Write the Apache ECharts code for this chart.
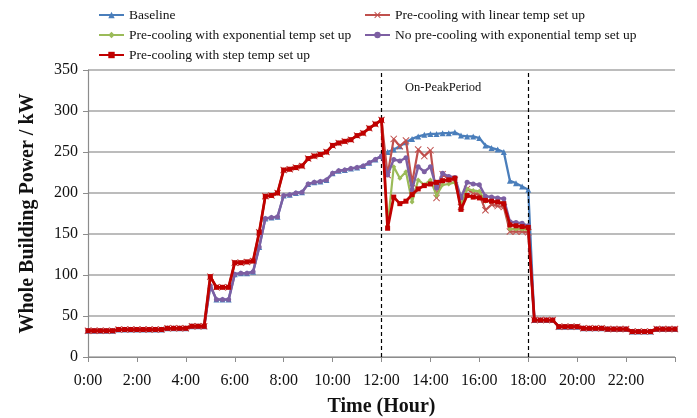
<!DOCTYPE html>
<html>
<head>
<meta charset="utf-8">
<script src="https://cdn.jsdelivr.net/npm/echarts@6/dist/echarts.min.js"></script>
<style>
  html, body { margin: 0; padding: 0; background: #fff; }
  #chart { width: 697px; height: 418px; }
</style>
</head>
<body>
<div id="chart"></div>
<script>
// Whole building power, 15-minute samples from 0:00 to 24:00 (kW)

// 0:00 - 4:45, identical for every strategy
const nightLoad = [32, 32, 32, 32, 32, 33.5, 33.5, 33.5, 33.5, 33.5, 33.5, 33.5, 33.5,
                   35, 35, 35, 35, 37.5, 37.5, 37.5];

// 5:00 - 12:00 with pre-cooling (step, linear and exponential strategies share it)
const morningPrecool = [98, 85, 85, 85, 115, 115, 116, 117, 152, 196, 197, 200,
                        228, 229, 231, 233, 242, 245, 247, 250, 258, 261, 263, 265,
                        270, 273, 279, 284, 289];

// 5:00 - 12:00 without pre-cooling (baseline and no pre-cooling case)
const morningNormal = [87, 70, 70, 70, 101, 102, 102, 104, 134, 169, 170, 171,
                       197, 198, 200, 201, 211, 213, 214, 216, 224, 227, 228, 230,
                       231, 233, 237, 241, 245];

// 12:15 - 18:00 on-peak period, one array per strategy
const peakBaseline  = [250, 253, 257, 262, 266, 269, 271, 272, 272, 273, 273, 274,
                       270, 269, 269, 267, 258, 255, 253, 250, 215, 212, 208, 204];
const peakLinear    = [222, 266, 257, 264, 212, 253, 245, 252, 194, 223, 217, 216,
                       183, 205, 200, 198, 179, 186, 184, 183, 153, 153, 153, 152];
const peakExpo      = [160, 232, 218, 226, 189, 216, 210, 216, 197, 210, 211, 213,
                       186, 205, 203, 202, 190, 190, 189, 188, 156, 156, 156, 155];
const peakNoPreExpo = [222, 241, 239, 243, 204, 232, 226, 232, 206, 224, 220, 219,
                       194, 213, 211, 210, 196, 195, 194, 193, 165, 164, 163, 160];
const peakStep      = [157, 195, 187, 190, 198, 205, 209, 211, 213, 215, 216, 218,
                       180, 197, 195, 194, 191, 190, 189, 187, 161, 160, 159, 158];

// 18:15 - 24:00, identical for every strategy
const eveningLoad = [45, 45, 45, 45, 37, 37, 37, 37, 35, 35, 35, 35,
                     34, 34, 34, 34, 31, 31, 31, 31, 34, 34, 34, 34];

const seriesNames = [
  'Baseline',
  'Pre-cooling with linear temp set up',
  'Pre-cooling with exponential temp set up',
  'No pre-cooling with exponential temp set up',
  'Pre-cooling with step temp set up'
];
const xTicks = ['0:00', '2:00', '4:00', '6:00', '8:00', '10:00', '12:00',
                '14:00', '16:00', '18:00', '20:00', '22:00'];

const STEP_HOURS = 0.25;

function toPoints(values) {
  return values.map((v, i) => [i * STEP_HOURS, v]);
}
function fullDay(morning, peak) {
  return toPoints(nightLoad.concat(morning, peak, eveningLoad));
}

const FONT = "'Liberation Serif', 'Times New Roman', serif";
const xMark = 'path://M0,1L1,0L5,4L9,0L10,1L6,5L10,9L9,10L5,6L1,10L0,9L4,5Z';

const defs = [
  { name: seriesNames[0], color: '#4a7ebb', symbol: 'triangle', size: 6, width: 2.3,
    data: fullDay(morningNormal, peakBaseline) },
  { name: seriesNames[1], color: '#c0504d', symbol: xMark, size: 7, width: 2.2,
    data: fullDay(morningPrecool, peakLinear) },
  { name: seriesNames[2], color: '#9bbb59', symbol: 'diamond', size: 5, width: 2.2,
    data: fullDay(morningPrecool, peakExpo) },
  { name: seriesNames[3], color: '#7d5fa3', symbol: 'circle', size: 5, width: 2.5,
    data: fullDay(morningNormal, peakNoPreExpo) },
  { name: seriesNames[4], color: '#c00000', symbol: 'rect', size: 5, width: 2.8,
    data: fullDay(morningPrecool, peakStep) }
];

const series = defs.map((d, idx) => ({
  name: d.name,
  type: 'line',
  data: d.data,
  symbol: d.symbol,
  symbolSize: d.size,
  showSymbol: true,
  animation: false,
  z: 2 + idx,
  lineStyle: { color: d.color, width: d.width },
  itemStyle: { color: d.color, borderColor: d.color, borderWidth: 0 }
}));

// dashed boundaries of the on-peak period
series[0].markLine = {
  silent: true,
  symbol: 'none',
  label: { show: false },
  lineStyle: { color: '#000', type: [4, 3], width: 1.2 },
  data: [{ xAxis: 12 }, { xAxis: 18 }]
};

const legendText = { fontFamily: FONT, fontSize: 13.5, color: '#111', lineHeight: 14 };
const legendBase = {
  orient: 'vertical', top: 3,
  itemWidth: 25, itemHeight: 8, itemGap: 6,
  textStyle: legendText, selectedMode: false
};

const chart = echarts.init(document.getElementById('chart'), null, { renderer: 'canvas' });
chart.setOption({
  backgroundColor: '#fff',
  animation: false,
  grid: { left: 88, right: 22, top: 70, bottom: 61, containLabel: false, outerBoundsMode: 'none' },
  legend: [
    Object.assign({ data: [seriesNames[0], seriesNames[2], seriesNames[4]], left: 93 }, legendBase),
    Object.assign({ data: [seriesNames[1], seriesNames[3]], left: 359 }, legendBase)
  ],
  xAxis: {
    type: 'value', min: 0, max: 24, interval: 2,
    name: 'Time (Hour)', nameLocation: 'middle', nameGap: 40,
    nameTextStyle: { fontFamily: FONT, fontSize: 20, fontWeight: 'bold', color: '#111' },
    axisLine: { show: true, lineStyle: { color: '#8c8c8c', width: 1.2 } },
    axisTick: { show: true, length: 5, lineStyle: { color: '#8c8c8c' } },
    splitLine: { show: false },
    axisLabel: {
      margin: 16, fontFamily: FONT, fontSize: 16, color: '#111',
      formatter: v => xTicks[Math.round(v / 2)] || ''
    }
  },
  yAxis: {
    type: 'value', min: 0, max: 350, interval: 50,
    name: 'Whole Building Power / kW', nameLocation: 'middle', nameGap: 50,
    nameTextStyle: { fontFamily: FONT, fontSize: 20, fontWeight: 'bold', color: '#111' },
    axisLine: { show: true, lineStyle: { color: '#8c8c8c', width: 1.2 } },
    axisTick: { show: true, length: 5, lineStyle: { color: '#8c8c8c' } },
    splitLine: { show: true, lineStyle: { color: '#a6a6a6', width: 1.5 } },
    axisLabel: { margin: 10, fontFamily: FONT, fontSize: 16, color: '#111' }
  },
  graphic: [
    {
      type: 'text', left: 405, top: 81, silent: true,
      style: { text: 'On-PeakPeriod', font: '12.5px ' + FONT, fill: '#111' }
    }
  ],
  series: series
});
</script>
</body>
</html>
